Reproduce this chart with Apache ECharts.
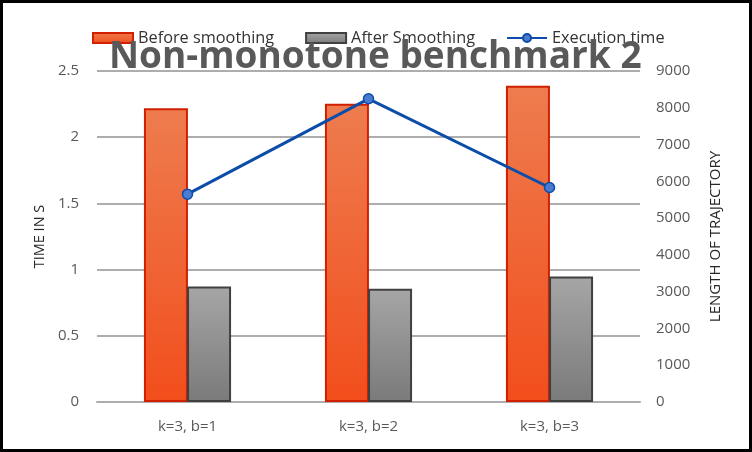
<!DOCTYPE html>
<html>
<head>
<meta charset="utf-8">
<script src="https://cdn.jsdelivr.net/npm/echarts@6/dist/echarts.min.js"></script>
<style>
  html, body { margin: 0; padding: 0; background: #fff; }
  #chart { width: 752px; height: 452px; border: 3px solid #000; box-sizing: border-box; }
</style>
</head>
<body>
<div id="chart"></div>
<script>
// values
const categories = ['k=3, b=1', 'k=3, b=2', 'k=3, b=3'];
const beforeSmoothing = [7990, 8110, 8600];
const afterSmoothing = [3140, 3080, 3410];
const executionTime = [1.57, 2.29, 1.62];

const font = 'Open Sans';
const labelColor = '#595959';

const myChart = echarts.init(document.getElementById('chart'));

const option = {
  animation: false,
  textStyle: { fontFamily: font },
  title: {
    text: 'Non-monotone benchmark 2',
    left: 101,
    top: 31,
    textStyle: { fontFamily: font, fontSize: 37, fontWeight: 'bold', color: '#595959' }
  },
  legend: {
    left: 84,
    top: 22,
    itemWidth: 40,
    itemHeight: 10,
    itemGap: 31,
    textStyle: { fontSize: 16.3, color: '#333333' },
    data: [
      { name: 'Before smoothing', icon: 'rect' },
      { name: 'After Smoothing', icon: 'rect' },
      'Execution time'
    ]
  },
  grid: { left: 94, right: 109, top: 68, bottom: 47 },
  xAxis: {
    type: 'category',
    data: categories,
    axisTick: { show: false },
    axisLine: { lineStyle: { color: '#ADADAD', width: 2 } },
    axisLabel: { color: labelColor, fontSize: 15, margin: 17 }
  },
  yAxis: [
    {
      type: 'value',
      min: 0,
      max: 2.5,
      interval: 0.5,
      name: 'TIME IN S',
      nameLocation: 'middle',
      nameGap: 50,
      nameTextStyle: { fontSize: 14.5, color: '#262626' },
      axisLine: { show: false },
      axisTick: { show: false },
      axisLabel: { color: labelColor, fontSize: 15, margin: 18 },
      splitLine: { lineStyle: { color: '#ADADAD', width: 2 } }
    },
    {
      type: 'value',
      min: 0,
      max: 9000,
      interval: 1000,
      name: 'LENGTH OF TRAJECTORY',
      nameLocation: 'middle',
      nameGap: 68,
      nameTextStyle: { fontSize: 15, color: '#262626' },
      axisLine: { show: false },
      axisTick: { show: false },
      axisLabel: { color: labelColor, fontSize: 15, margin: 16, formatter: (v) => String(v) },
      splitLine: { show: false }
    }
  ],
  series: [
    {
      name: 'Before smoothing',
      type: 'bar',
      yAxisIndex: 1,
      data: beforeSmoothing,
      barWidth: 44,
      barGap: '-2%',
      itemStyle: {
        color: new echarts.graphic.LinearGradient(0, 0, 0, 1, [
          { offset: 0, color: '#EE7C4F' },
          { offset: 1, color: '#F24E1C' }
        ]),
        borderColor: '#D11F00',
        borderWidth: 2
      }
    },
    {
      name: 'After Smoothing',
      type: 'bar',
      yAxisIndex: 1,
      data: afterSmoothing,
      barWidth: 44,
      barGap: '-2%',
      itemStyle: {
        color: new echarts.graphic.LinearGradient(0, 0, 0, 1, [
          { offset: 0, color: '#A6A6A6' },
          { offset: 1, color: '#7A7A7A' }
        ]),
        borderColor: '#404040',
        borderWidth: 2
      }
    },
    {
      name: 'Execution time',
      type: 'line',
      yAxisIndex: 0,
      data: executionTime,
      symbol: 'circle',
      symbolSize: 10,
      lineStyle: { color: '#0B4DA8', width: 3 },
      itemStyle: { color: '#4A7BD0', borderColor: '#0B4DA8', borderWidth: 1.5 },
      z: 5
    }
  ]
};

option && myChart.setOption(option);
</script>
</body>
</html>
